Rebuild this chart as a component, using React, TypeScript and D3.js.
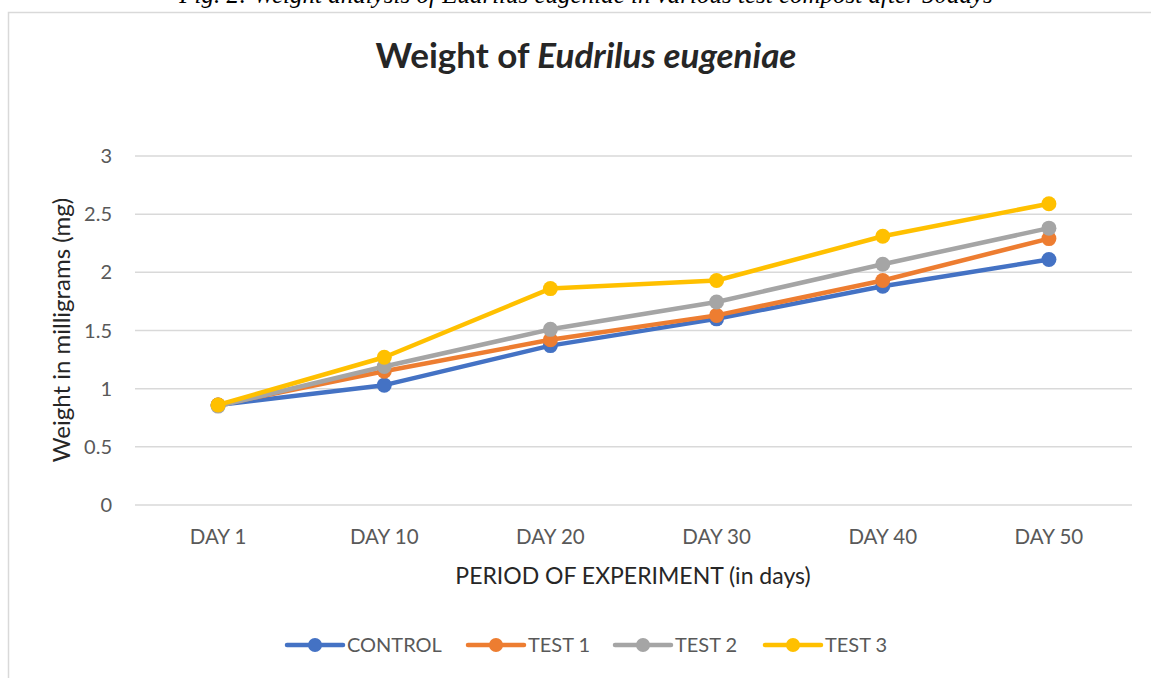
import React, { useEffect, useRef } from 'react';
import * as d3 from 'd3';

const days = ['DAY 1', 'DAY 10', 'DAY 20', 'DAY 30', 'DAY 40', 'DAY 50'];
const seriesNames = ['CONTROL', 'TEST 1', 'TEST 2', 'TEST 3'];
const control = [0.86, 1.03, 1.37, 1.6, 1.88, 2.11];
const test1 = [0.86, 1.15, 1.42, 1.63, 1.93, 2.29];
const test2 = [0.85, 1.19, 1.51, 1.745, 2.07, 2.38];
const test3 = [0.86, 1.27, 1.86, 1.93, 2.31, 2.59];
const yTicks = [0, 0.5, 1, 1.5, 2, 2.5, 3];
const colors = ['#4472C4', '#ED7D31', '#A5A5A5', '#FFC000'];

const FONT = 'Lato, "Open Sans", sans-serif';

const App: React.FC = () => {
  const svgRef = useRef<SVGSVGElement | null>(null);

  useEffect(() => {
    const svg = d3.select(svgRef.current);
    svg.selectAll('*').remove();

    const width = 1151;
    const height = 678;
    svg.attr('width', width).attr('height', height);

    svg.append('rect').attr('width', width).attr('height', height).attr('fill', '#fff');

    // caption from the page, cut off at the top like in the source
    svg.append('text')
      .attr('x', 586)
      .attr('y', 3)
      .attr('text-anchor', 'middle')
      .attr('font-family', '"Liberation Serif", serif')
      .attr('font-style', 'italic')
      .attr('font-size', 25)
      .attr('fill', '#000')
      .text('Fig. 2: Weight analysis of Eudrilus eugeniae in various test compost after 50days');

    // chart frame
    svg.append('rect')
      .attr('x', 8.5)
      .attr('y', 12.5)
      .attr('width', 1160)
      .attr('height', 700)
      .attr('fill', '#fff')
      .attr('stroke', '#D9D9D9')
      .attr('stroke-width', 1.5);

    const x = d3.scaleBand().domain(days).range([135, 1132]);
    const y = d3.scaleLinear().domain([0, 3]).range([505, 156]);

    // title
    const title = svg.append('text')
      .attr('x', 586)
      .attr('y', 68)
      .attr('text-anchor', 'middle')
      .attr('font-family', FONT)
      .attr('font-size', 35)
      .attr('font-weight', 'bold')
      .attr('fill', '#262626');
    title.append('tspan').text('Weight of ');
    title.append('tspan').attr('font-style', 'italic').text('Eudrilus eugeniae');

    // gridlines
    svg.append('g')
      .selectAll('line')
      .data(yTicks)
      .join('line')
      .attr('x1', 135)
      .attr('x2', 1132)
      .attr('y1', (d) => y(d))
      .attr('y2', (d) => y(d))
      .attr('stroke', '#D9D9D9')
      .attr('stroke-width', 1.5);

    // y tick labels
    svg.append('g')
      .selectAll('text')
      .data(yTicks)
      .join('text')
      .attr('x', 112)
      .attr('y', (d) => y(d))
      .attr('dy', '0.35em')
      .attr('text-anchor', 'end')
      .attr('font-family', FONT)
      .attr('font-size', 20)
      .attr('fill', '#595959')
      .text((d) => String(d));

    // x tick labels
    svg.append('g')
      .selectAll('text')
      .data(days)
      .join('text')
      .attr('x', (d) => (x(d) as number) + x.bandwidth() / 2)
      .attr('y', 544)
      .attr('text-anchor', 'middle')
      .attr('font-family', FONT)
      .attr('font-size', 20.5)
      .attr('fill', '#595959')
      .text((d) => d);

    // axis titles
    svg.append('text')
      .attr('x', 633)
      .attr('y', 584)
      .attr('text-anchor', 'middle')
      .attr('font-family', FONT)
      .attr('font-size', 23)
      .attr('fill', '#262626')
      .text('PERIOD OF EXPERIMENT (in days)');

    svg.append('text')
      .attr('transform', 'translate(70, 330) rotate(-90)')
      .attr('text-anchor', 'middle')
      .attr('font-family', FONT)
      .attr('font-size', 24)
      .attr('fill', '#262626')
      .text('Weight in milligrams (mg)');

    const series = [control, test1, test2, test3];
    const line = d3.line<number>()
      .x((_, i) => (x(days[i]) as number) + x.bandwidth() / 2)
      .y((d) => y(d));

    series.forEach((values, si) => {
      const g = svg.append('g');
      g.append('path')
        .attr('d', line(values))
        .attr('fill', 'none')
        .attr('stroke', colors[si])
        .attr('stroke-width', 4.5)
        .attr('stroke-linejoin', 'round')
        .attr('stroke-linecap', 'round');
      g.selectAll('circle')
        .data(values)
        .join('circle')
        .attr('cx', (_, i) => (x(days[i]) as number) + x.bandwidth() / 2)
        .attr('cy', (d) => y(d))
        .attr('r', 7.5)
        .attr('fill', colors[si]);
    });

    // legend
    const legendX = [287, 468, 615, 765];
    const legend = svg.append('g');
    seriesNames.forEach((name, i) => {
      const lx = legendX[i];
      legend.append('line')
        .attr('x1', lx)
        .attr('x2', lx + 56)
        .attr('y1', 645)
        .attr('y2', 645)
        .attr('stroke', colors[i])
        .attr('stroke-width', 4.5)
        .attr('stroke-linecap', 'round');
      legend.append('circle')
        .attr('cx', lx + 28)
        .attr('cy', 645)
        .attr('r', 7)
        .attr('fill', colors[i]);
      legend.append('text')
        .attr('x', lx + 60)
        .attr('y', 645)
        .attr('dy', '0.35em')
        .attr('font-family', FONT)
        .attr('font-size', 20)
        .attr('fill', '#595959')
        .text(name);
    });
  }, []);

  return <svg ref={svgRef} style={{ position: 'absolute', left: 0, top: 0, display: 'block' }}></svg>;
};

export default App;
